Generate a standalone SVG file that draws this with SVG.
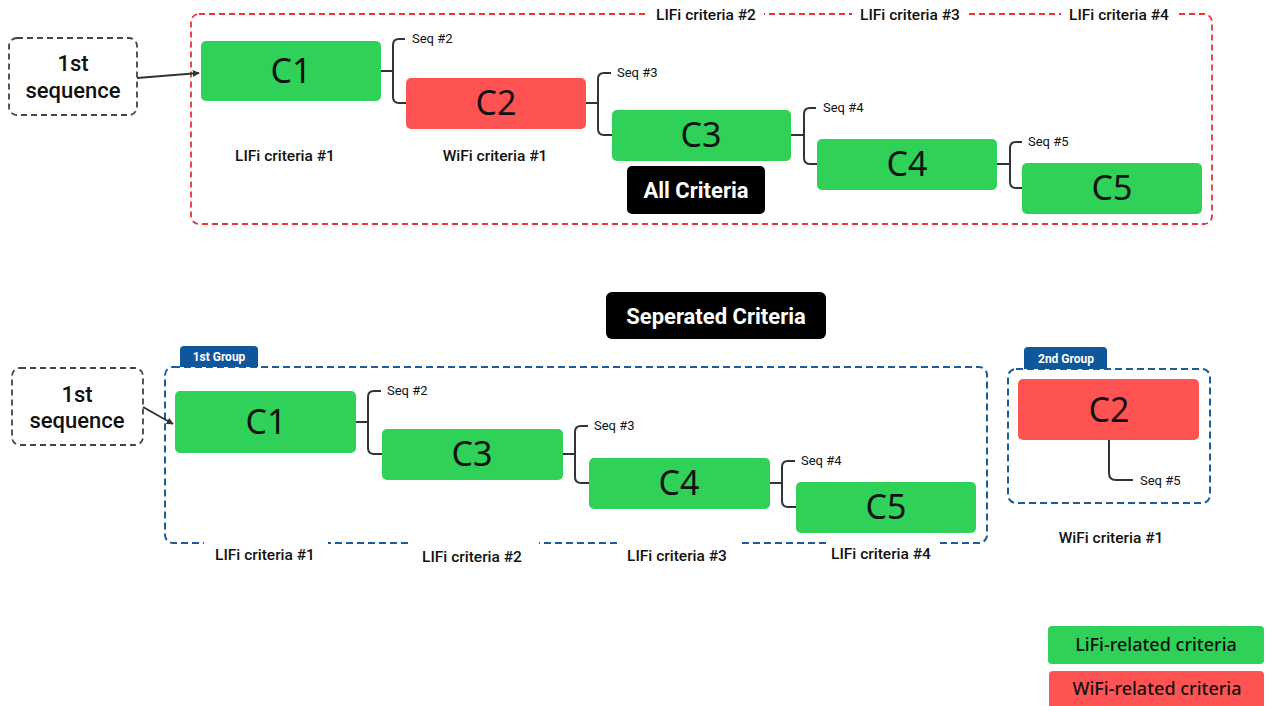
<svg xmlns="http://www.w3.org/2000/svg" width="1266" height="706" viewBox="0 0 1266 706">
<defs>
<marker id="arr" viewBox="0 0 10 10" refX="9" refY="5" markerWidth="7" markerHeight="7" orient="auto" markerUnits="userSpaceOnUse">
<path d="M0,0 L10,5 L0,10 z" fill="#333"/>
</marker>
<style>
.g{fill:#2fd158}
.r{fill:#ff5353}
.cl{font-family:"Noto Sans","Liberation Sans",sans-serif;font-size:34px;fill:#111;text-anchor:middle}
.lb{font-family:Roboto,"Liberation Sans",sans-serif;font-weight:500;font-size:15.5px;fill:#111;text-anchor:middle}
.sq{font-family:Roboto,"Liberation Sans",sans-serif;font-size:13px;fill:#111}
.seqbox{fill:#fff;stroke:#444;stroke-width:1.8;stroke-dasharray:6 4}
.seqt{font-family:Roboto,"Liberation Sans",sans-serif;font-weight:500;font-size:22px;fill:#111;text-anchor:middle}
.con{fill:none;stroke:#333;stroke-width:2}
.blk{fill:#000}
.wt{font-family:Roboto,"Liberation Sans",sans-serif;font-weight:700;font-size:22px;fill:#fff;text-anchor:middle}
.bdash{fill:none;stroke:#1a5c9c;stroke-width:2;stroke-dasharray:7 4}
.tab{fill:#0e579b}
.tabt{font-family:Roboto,"Liberation Sans",sans-serif;font-weight:700;font-size:12px;fill:#fff;text-anchor:middle}
.leg{font-family:"Noto Sans","Liberation Sans",sans-serif;font-weight:500;font-size:18px;fill:#111;text-anchor:middle}
</style>
</defs>
<rect width="1266" height="706" fill="#fff"/>

<!-- TOP SECTION -->
<g id="allgroup">
<rect x="191" y="14" width="1021" height="210" rx="8" fill="none" stroke="#e8333a" stroke-width="1.8" stroke-dasharray="6 4"/>
<rect x="648" y="6" width="116" height="16" fill="#fff"/>
<rect x="852" y="6" width="116" height="16" fill="#fff"/>
<rect x="1061" y="6" width="116" height="16" fill="#fff"/>
<text class="lb" x="706" y="20">LIFi criteria #2</text>
<text class="lb" x="910" y="20">LIFi criteria #3</text>
<text class="lb" x="1119" y="20">LIFi criteria #4</text>
</g>

<g id="seq1">
<rect class="seqbox" x="9" y="38" width="128" height="77" rx="8"/>
<text class="seqt" x="73" y="71">1st</text>
<text class="seqt" x="73" y="98">sequence</text>
</g>

<g id="c1">
<rect class="g" x="201" y="41" width="180" height="60" rx="5"/>
<text class="cl" x="291" y="83">C1</text>
<text class="lb" x="285" y="161">LIFi criteria #1</text>
</g>
<g id="c2">
<rect class="r" x="406" y="78" width="180" height="51" rx="5"/>
<text class="cl" x="496" y="115">C2</text>
<text class="lb" x="495" y="161">WiFi criteria #1</text>
</g>
<g id="c3">
<rect class="g" x="612" y="110" width="179" height="51" rx="5"/>
<text class="cl" x="701" y="147">C3</text>
</g>
<g id="c4">
<rect class="g" x="817" y="139" width="180" height="51" rx="5"/>
<text class="cl" x="907" y="176">C4</text>
</g>
<g id="c5">
<rect class="g" x="1022" y="163" width="180" height="51" rx="5"/>
<text class="cl" x="1112" y="200">C5</text>
</g>
<g id="allcriteria">
<rect class="blk" x="627" y="166" width="138" height="48" rx="5"/>
<text class="wt" x="696" y="198">All Criteria</text>
</g>

<g id="connectors-top">
<path class="con" d="M137,78 L199,73" marker-end="url(#arr)"/>
<path class="con" d="M381,71 H393 M405,39 H399 Q393,39 393,45 V97 Q393,103 399,103 H406"/>
<path class="con" d="M586,103 H598 M611,73 H604 Q598,73 598,79 V129 Q598,135 604,135 H612"/>
<path class="con" d="M791,135 H804 M816,108 H810 Q804,108 804,114 V158 Q804,164 810,164 H817"/>
<path class="con" d="M997,164 H1010 M1022,142 H1016 Q1010,142 1010,148 V182 Q1010,188 1016,188 H1022"/>
<text class="sq" x="412" y="43">Seq #2</text>
<text class="sq" x="617" y="77">Seq #3</text>
<text class="sq" x="823" y="112">Seq #4</text>
<text class="sq" x="1028" y="146">Seq #5</text>
</g>

<!-- MIDDLE -->
<g id="separated">
<rect class="blk" x="606" y="292" width="220" height="47" rx="6"/>
<text class="wt" x="716" y="324">Seperated Criteria</text>
</g>

<!-- BOTTOM SECTION -->
<g id="group1">
<rect class="bdash" x="165" y="367" width="822" height="176" rx="8"/>
<rect x="204" y="538" width="124" height="10" fill="#fff"/>
<rect x="412" y="538" width="127" height="10" fill="#fff"/>
<rect x="618" y="538" width="124" height="10" fill="#fff"/>
<rect x="826" y="538" width="112" height="10" fill="#fff"/>
<path class="tab" d="M180,367 V350 Q180,346 184,346 H254 Q258,346 258,350 V367 Z"/>
<text class="tabt" x="219" y="361">1st Group</text>
<text class="lb" x="265" y="560">LIFi criteria #1</text>
<text class="lb" x="472" y="562">LIFi criteria #2</text>
<text class="lb" x="677" y="561">LIFi criteria #3</text>
<text class="lb" x="881" y="559">LIFi criteria #4</text>
</g>

<g id="seq1b">
<rect class="seqbox" x="12" y="368" width="131" height="77" rx="8"/>
<text class="seqt" x="77" y="402">1st</text>
<text class="seqt" x="77" y="428">sequence</text>
</g>

<g id="c1b">
<rect class="g" x="175" y="391" width="181" height="62" rx="5"/>
<text class="cl" x="266" y="434">C1</text>
</g>
<g id="c3b">
<rect class="g" x="382" y="429" width="181" height="51" rx="5"/>
<text class="cl" x="472" y="466">C3</text>
</g>
<g id="c4b">
<rect class="g" x="589" y="458" width="181" height="51" rx="5"/>
<text class="cl" x="679" y="495">C4</text>
</g>
<g id="c5b">
<rect class="g" x="796" y="482" width="180" height="51" rx="5"/>
<text class="cl" x="886" y="519">C5</text>
</g>

<g id="group2">
<rect class="bdash" x="1008" y="369" width="202" height="134" rx="8"/>
<path class="tab" d="M1024,369 V351 Q1024,347 1028,347 H1103 Q1107,347 1107,351 V369 Z"/>
<text class="tabt" x="1066" y="363">2nd Group</text>
<text class="lb" x="1111" y="543">WiFi criteria #1</text>
</g>
<g id="c2b">
<rect class="r" x="1018" y="379" width="181" height="61" rx="5"/>
<text class="cl" x="1109" y="422">C2</text>
</g>

<g id="connectors-bottom">
<path class="con" d="M143,407 L173,424" marker-end="url(#arr)"/>
<path class="con" d="M356,422 H368 M381,391 H374 Q368,391 368,397 V448 Q368,454 374,454 H382"/>
<path class="con" d="M563,454 H575 M588,426 H581 Q575,426 575,432 V477 Q575,483 581,483 H589"/>
<path class="con" d="M770,483 H782 M795,461 H788 Q782,461 782,467 V501 Q782,507 788,507 H796"/>
<path class="con" d="M1109,440 V473 Q1109,480 1116,480 H1133"/>
<text class="sq" x="387" y="395">Seq #2</text>
<text class="sq" x="594" y="430">Seq #3</text>
<text class="sq" x="801" y="465">Seq #4</text>
<text class="sq" x="1140" y="485">Seq #5</text>
</g>

<!-- LEGEND -->
<g id="legend-lifi">
<rect class="g" x="1048" y="626" width="216" height="38" rx="4"/>
<text class="leg" x="1156" y="651">LiFi-related criteria</text>
</g>
<g id="legend-wifi">
<rect class="r" x="1049" y="671" width="215" height="40" rx="4"/>
<text class="leg" x="1157" y="695">WiFi-related criteria</text>
</g>
</svg>
